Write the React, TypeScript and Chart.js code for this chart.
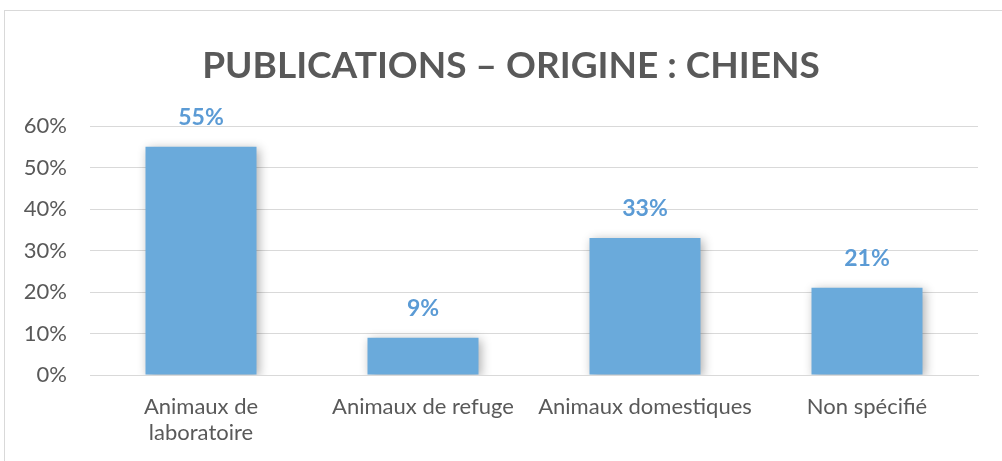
import React, { useEffect, useRef } from "react";
import { Chart, registerables } from "chart.js";

Chart.register(...registerables);

const TITLE = "PUBLICATIONS – ORIGINE : CHIENS";
const categories: (string | string[])[] = [
  ["Animaux de", "laboratoire"],
  "Animaux de refuge",
  "Animaux domestiques",
  "Non spécifié",
];
const values = [0.55, 0.09, 0.33, 0.21];
const yTicks = [0, 0.1, 0.2, 0.3, 0.4, 0.5, 0.6];

const FONT = "Lato, 'Open Sans', sans-serif";
const BAR_COLOR = "#6aaadb";
const LABEL_COLOR = "#5b9bd5";
const TEXT_COLOR = "#595959";
const GRID_COLOR = "#d9d9d9";

const shadowPlugin = {
  id: "barShadow",
  beforeDatasetDraw(chart: any) {
    const ctx = chart.ctx;
    ctx.save();
    ctx.shadowColor = "rgba(0,0,0,0.32)";
    ctx.shadowBlur = 10;
    ctx.shadowOffsetX = 2;
    ctx.shadowOffsetY = 2;
  },
  afterDatasetDraw(chart: any) {
    chart.ctx.restore();
  },
};

const labelPlugin = {
  id: "valueLabels",
  afterDatasetsDraw(chart: any) {
    const ctx = chart.ctx;
    const meta = chart.getDatasetMeta(0);
    ctx.save();
    ctx.fillStyle = LABEL_COLOR;
    ctx.font = `bold 23px ${FONT}`;
    ctx.textAlign = "center";
    ctx.textBaseline = "middle";
    meta.data.forEach((bar: any, i: number) => {
      const v = chart.data.datasets[0].data[i] as number;
      ctx.fillText(Math.round(v * 100) + "%", bar.x, bar.y - 29);
    });
    ctx.restore();
  },
};

export default function App() {
  const ref = useRef<HTMLCanvasElement>(null);
  useEffect(() => {
    if (!ref.current) return;
    const chart = new Chart(ref.current, {
      type: "bar",
      data: {
        labels: categories,
        datasets: [
          {
            data: values,
            backgroundColor: BAR_COLOR,
            barPercentage: 0.5,
            categoryPercentage: 1,
            yAxisID: "y",
          },
        ],
      },
      options: {
        responsive: false,
        animation: false,
        devicePixelRatio: 1,
        layout: { padding: { left: 0, right: 0, top: 0, bottom: 0 } },
        plugins: {
          legend: { display: false },
          tooltip: { enabled: false },
          title: {
            display: true,
            text: TITLE,
            color: TEXT_COLOR,
            font: { family: FONT, size: 37, weight: "bold", lineHeight: 1.2 },
            padding: { top: 44, bottom: 37.6 },
          },
        },
        scales: {
          x: {
            grid: { display: false, drawTicks: false },
            border: { display: true, color: GRID_COLOR, width: 1 },
            ticks: {
              color: TEXT_COLOR,
              font: { family: FONT, size: 22, lineHeight: 1.18 },
              padding: 19,
              maxRotation: 0,
              autoSkip: false,
            },
            afterFit(scale: any) {
              scale.height = 461 - 375;
            },
          },
          y: {
            min: 0,
            max: 0.6,
            afterBuildTicks(scale: any) {
              scale.ticks = yTicks.map((v) => ({ value: v }));
            },
            grid: { color: GRID_COLOR, drawTicks: false, lineWidth: 1 },
            border: { display: false },
            ticks: {
              color: TEXT_COLOR,
              font: { family: FONT, size: 22 },
              padding: 23,
              callback: (v: any) => Math.round(Number(v) * 100) + "%",
            },
            afterFit(scale: any) {
              scale.width = 90;
            },
          },
          yRight: {
            type: "linear",
            position: "right",
            min: 0,
            max: 0.6,
            grid: { display: false, drawTicks: false },
            border: { display: false },
            ticks: { display: false },
            afterFit(scale: any) {
              scale.width = 44;
            },
          },
        },
      },
      plugins: [shadowPlugin, labelPlugin],
    });
    return () => chart.destroy();
  }, []);

  return (
    <div style={{ position: "fixed", left: 0, top: 0, width: 1002, height: 461, background: "#fff", overflow: "hidden" }}>
      <div
        style={{
          position: "absolute",
          left: 4,
          top: 10,
          width: 1020,
          height: 480,
          border: "1px solid #d9d9d9",
          boxSizing: "border-box",
        }}
      />
      <canvas ref={ref} width={1022} height={461} style={{ position: "absolute", left: 0, top: 0 }} />
    </div>
  );
}
